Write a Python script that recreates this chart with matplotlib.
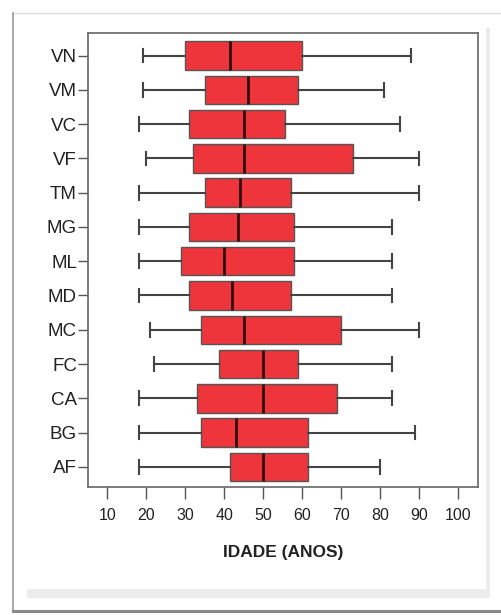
import matplotlib
matplotlib.use("Agg")
import matplotlib.pyplot as plt
from matplotlib.patches import Rectangle
from matplotlib.lines import Line2D

# Age distribution by group (five-number summaries)
groups = ["VN", "VM", "VC", "VF", "TM", "MG", "ML", "MD", "MC", "FC", "CA", "BG", "AF"]
whisker_low = [19, 19, 18, 20, 18, 18, 18, 18, 21, 22, 18, 18, 18]
q1 = [30, 35, 31, 32, 35, 31, 29, 31, 34, 38.7, 33, 34, 41.5]
median = [41.5, 46, 45, 45, 44, 43.5, 40, 42, 45, 50, 50, 43, 50]
q3 = [60, 59, 55.5, 73, 57, 58, 58, 57, 70, 59, 69, 61.5, 61.5]
whisker_high = [88, 81, 85, 90, 90, 83, 83, 83, 90, 83, 83, 89, 80]
x_ticks = [10, 20, 30, 40, 50, 60, 70, 80, 90, 100]

plt.rcParams['font.family'] = ['Liberation Sans', 'DejaVu Sans']

W, H = 501, 615
fig = plt.figure(figsize=(W / 100, H / 100), dpi=100)
fig.patch.set_facecolor('white')


def px_line(x0, y0, x1, y1, color, lw):
    # line in pixel coordinates measured from the top-left corner
    fig.lines.append(Line2D([x0 / W, x1 / W], [1 - y0 / H, 1 - y1 / H],
                            transform=fig.transFigure, color=color,
                            linewidth=lw, zorder=0))


def px_rect(x, y, w, h, color):
    fig.patches.append(Rectangle((x / W, 1 - (y + h) / H), w / W, h / H,
                                 transform=fig.transFigure, facecolor=color,
                                 edgecolor='none', zorder=0))


# Outer panel frame with soft shadow bands
px_line(13, 13, 501, 13, '#dcdcdc', 1.0)
px_line(13, 13, 13, 611, '#9a9a9a', 1.2)
px_line(13, 611, 501, 611, '#8a8a8a', 2.2)
px_rect(27, 589, 463, 9, '#ececec')
px_rect(486, 28, 4, 570, '#ececec')

ax = fig.add_axes([88 / W, 1 - 486.7 / H, 389.5 / W, 453.4 / H])

# Build stats for bxp, top group drawn at the top
positions = list(range(len(groups), 0, -1))
stats = []
for i, name in enumerate(groups):
    stats.append({
        'label': name,
        'whislo': whisker_low[i],
        'q1': q1[i],
        'med': median[i],
        'q3': q3[i],
        'whishi': whisker_high[i],
        'fliers': [],
    })

ax.bxp(stats, positions=positions, vert=False, widths=0.83,
       patch_artist=True, showfliers=False,
       boxprops=dict(facecolor='#ee353b', edgecolor='#555555', linewidth=1.0),
       medianprops=dict(color='#2e0e0e', linewidth=2.0),
       whiskerprops=dict(color='#444444', linewidth=1.5),
       capprops=dict(color='#444444', linewidth=1.5),
       capwidths=0.4)

ax.set_xlim(5, 105)
ax.set_ylim(0.42, len(groups) + 0.65)
ax.set_xticks(x_ticks)
ax.set_xticklabels([str(t) for t in x_ticks], fontsize=11.5, color='#222222')
ax.set_yticks(positions)
ax.set_yticklabels(groups, fontsize=13.5, color='#222222')

ax.tick_params(axis='y', direction='out', length=7, width=1.0, color='#555555', pad=1)
ax.tick_params(axis='x', direction='out', length=8.5, width=1.0, color='#555555', pad=7)
for spine in ax.spines.values():
    spine.set_color('#666666')
    spine.set_linewidth(1.2)

ax.set_xlabel('IDADE (ANOS)', fontsize=12.5, fontweight='bold', color='#222222', labelpad=16)

fig.savefig('out.png', dpi=100)
